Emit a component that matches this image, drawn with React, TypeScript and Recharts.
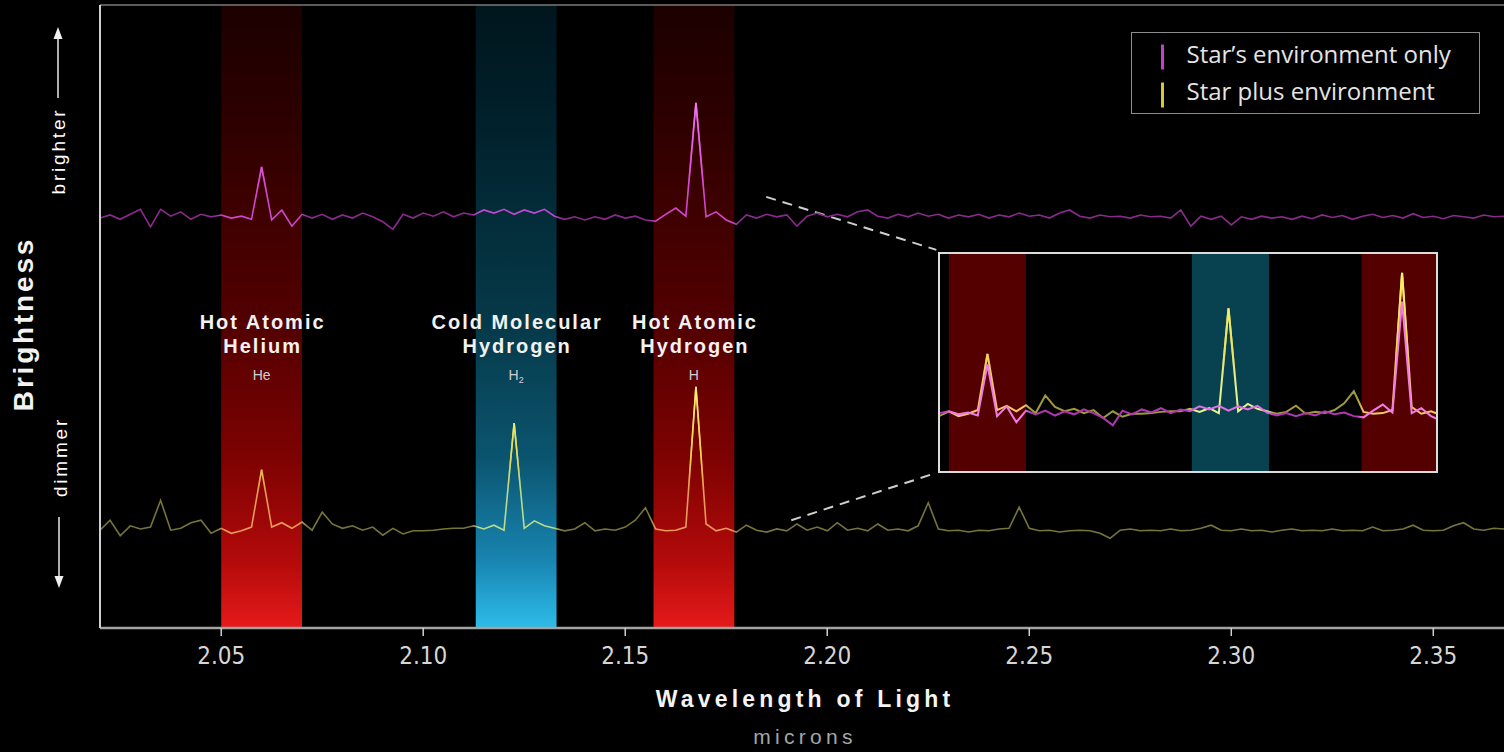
import React from 'react';
import { LineChart, Line, XAxis, YAxis, ReferenceArea, ReferenceLine, Legend } from 'recharts';

// Wavelength samples (microns)
const WAVELENGTH = [
  2.02, 2.0225, 2.025, 2.0275, 2.03, 2.0325, 2.035, 2.0375,
  2.04, 2.0425, 2.045, 2.0475, 2.05, 2.0525, 2.055, 2.0575,
  2.06, 2.0625, 2.065, 2.0675, 2.07, 2.0725, 2.075, 2.0775,
  2.08, 2.0825, 2.085, 2.0875, 2.09, 2.0925, 2.095, 2.0975,
  2.1, 2.1025, 2.105, 2.1075, 2.11, 2.1125, 2.115, 2.1175,
  2.12, 2.1225, 2.125, 2.1275, 2.13, 2.1325, 2.135, 2.1375,
  2.14, 2.1425, 2.145, 2.1475, 2.15, 2.1525, 2.155, 2.1575,
  2.16, 2.1625, 2.165, 2.1675, 2.17, 2.1725, 2.175, 2.1775,
  2.18, 2.1825, 2.185, 2.1875, 2.19, 2.1925, 2.195, 2.1975,
  2.2, 2.2025, 2.205, 2.2075, 2.21, 2.2125, 2.215, 2.2175,
  2.22, 2.2225, 2.225, 2.2275, 2.23, 2.2325, 2.235, 2.2375,
  2.24, 2.2425, 2.245, 2.2475, 2.25, 2.2525, 2.255, 2.2575,
  2.26, 2.2625, 2.265, 2.2675, 2.27, 2.2725, 2.275, 2.2775,
  2.28, 2.2825, 2.285, 2.2875, 2.29, 2.2925, 2.295, 2.2975,
  2.3, 2.3025, 2.305, 2.3075, 2.31, 2.3125, 2.315, 2.3175,
  2.32, 2.3225, 2.325, 2.3275, 2.33, 2.3325, 2.335, 2.3375,
  2.34, 2.3425, 2.345, 2.3475, 2.35, 2.3525, 2.355, 2.3575,
  2.36, 2.3625, 2.365, 2.3675,
];

// "Star's environment only" (magenta), arbitrary brightness units
const ENV_ONLY = [
  65.8, 66.3, 65.6, 66.4, 67.2, 64.4, 67.2, 66.1,
  66.8, 65.6, 66.4, 66.0, 66.3, 65.8, 66.1, 65.6,
  74.0, 65.5, 67.1, 64.5, 66.4, 65.8, 66.4, 65.6,
  66.3, 65.8, 66.6, 66.0, 65.2, 64.0, 66.4, 65.8,
  66.6, 66.1, 66.8, 66.0, 66.6, 66.3, 67.1, 66.6,
  67.2, 66.4, 67.1, 66.6, 67.2, 66.1, 65.6, 66.0,
  65.5, 66.0, 65.6, 66.3, 65.8, 66.1, 65.5, 65.3,
  66.4, 67.4, 66.1, 84.3, 66.0, 66.8, 65.5, 64.8,
  66.3, 65.8, 66.4, 66.0, 66.3, 64.5, 66.1, 66.6,
  66.0, 66.4, 66.0, 66.8, 67.1, 66.1, 65.8, 66.4,
  66.0, 66.6, 66.1, 66.4, 65.8, 66.3, 66.0, 66.4,
  65.8, 66.3, 66.0, 66.6, 66.1, 66.3, 65.8, 66.6,
  67.1, 66.1, 65.8, 66.3, 66.0, 66.1, 65.8, 66.3,
  66.0, 66.1, 65.8, 67.1, 64.5, 66.1, 65.6, 66.1,
  64.7, 66.0, 65.6, 66.1, 65.8, 66.0, 65.6, 66.1,
  65.7, 66.3, 65.9, 66.2, 65.6, 66.1, 66.4, 65.9,
  66.2, 65.8, 66.5, 65.9, 66.1, 65.7, 66.2, 66.0,
  65.8, 66.3, 66.0, 66.1,
];

// "Star plus environment" (yellow)
const STAR_PLUS_ENV = [
  15.7, 17.3, 14.8, 16.4, 15.9, 16.2, 20.5, 15.7,
  16.0, 16.9, 17.3, 15.2, 16.0, 15.2, 15.6, 16.2,
  25.4, 16.2, 16.9, 16.0, 17.0, 15.7, 18.6, 16.7,
  16.0, 16.4, 15.7, 16.2, 14.9, 16.0, 15.1, 15.6,
  15.6, 15.7, 15.9, 16.0, 16.0, 16.4, 15.9, 16.5,
  15.7, 32.9, 16.0, 17.2, 16.4, 16.0, 15.6, 15.9,
  16.9, 15.6, 15.9, 15.7, 16.2, 17.3, 19.3, 15.9,
  15.6, 15.7, 16.2, 38.7, 16.7, 15.6, 16.0, 15.4,
  16.5, 15.7, 15.4, 15.9, 15.6, 16.7, 15.7, 16.2,
  15.6, 16.9, 15.7, 16.0, 15.6, 16.7, 15.7, 15.9,
  15.6, 16.4, 20.1, 15.9, 15.6, 15.7, 15.4, 15.7,
  15.6, 15.9, 16.0, 19.4, 16.0, 15.6, 15.7, 15.4,
  15.6, 15.7, 15.6, 15.2, 14.4, 15.7, 15.9, 15.6,
  15.7, 15.6, 15.9, 15.6, 15.7, 16.0, 16.5, 15.7,
  15.6, 15.9, 15.6, 15.7, 15.4, 15.7, 15.9, 15.6,
  15.7, 15.6, 15.9, 15.6, 15.7, 15.6, 16.2, 15.6,
  15.7, 15.9, 16.5, 15.7, 15.6, 15.7, 16.4, 16.9,
  15.9, 15.7, 16.0, 15.9,
];

const X_TICKS = [2.05, 2.1, 2.15, 2.2, 2.25, 2.3, 2.35];
const X_DOMAIN = [2.02, 2.3675];
const INSET_DOMAIN = [2.0477, 2.1763];

const BAND_STARTS = [2.05, 2.113, 2.157];
const BAND_ENDS = [2.07, 2.133, 2.177];
const BAND_KINDS = ['hot', 'cold', 'hot'];
const BAND_TITLES = [
  ['Hot Atomic', 'Helium'],
  ['Cold Molecular', 'Hydrogen'],
  ['Hot Atomic', 'Hydrogen'],
];
const BAND_SYMBOLS = ['He', 'H2', 'H'];

const SERIES = [
  { key: 'env', name: 'Star\u2019s environment only', legendColor: '#c43ed2' },
  { key: 'star', name: 'Star plus environment', legendColor: '#d8c63c' },
];

// Connector lines from main spectra to inset box (data coordinates)
const CONNECTORS = [
  [{ x: 2.1849, y: 69.2 }, { x: 2.227, y: 60.7 }],
  [{ x: 2.1911, y: 17.3 }, { x: 2.227, y: 24.9 }],
];

const ROWS = WAVELENGTH.map((wl, i) => ({ wl, env: ENV_ONLY[i], star: STAR_PLUS_ENV[i] }));

const BANDS = BAND_STARTS.map((x1, i) => ({
  id: 'b' + i,
  x1,
  x2: BAND_ENDS[i],
  kind: BAND_KINDS[i],
  title: BAND_TITLES[i],
  symbol: BAND_SYMBOLS[i],
}));

const SANS = "'Liberation Sans', Arial, Helvetica, sans-serif";
const NARROW = "'Liberation Sans Narrow', 'DejaVu Sans Condensed', 'Liberation Sans', sans-serif";
const OPEN = "'Open Sans', 'Noto Sans', sans-serif";

const fOff = (wl: number) =>
  (wl - WAVELENGTH[0]) / (WAVELENGTH[WAVELENGTH.length - 1] - WAVELENGTH[0]);

function bandStops(prefix: string, outside: string, hot: string, cold: string) {
  const out: any[] = [<stop key={prefix + 's0'} offset={0} stopColor={outside} />];
  BANDS.forEach((b) => {
    const c = b.kind === 'hot' ? hot : cold;
    const a = fOff(b.x1);
    const e = fOff(b.x2);
    out.push(<stop key={prefix + b.id + 'a'} offset={a - 0.004} stopColor={outside} />);
    out.push(<stop key={prefix + b.id + 'b'} offset={a + 0.002} stopColor={c} />);
    out.push(<stop key={prefix + b.id + 'c'} offset={e - 0.002} stopColor={c} />);
    out.push(<stop key={prefix + b.id + 'd'} offset={e + 0.004} stopColor={outside} />);
  });
  out.push(<stop key={prefix + 's1'} offset={1} stopColor={outside} />);
  return out;
}

const BandLabel = (props: any) => {
  const { viewBox, band } = props;
  if (!viewBox) return null;
  const cx = viewBox.x + viewBox.width / 2 + 1;
  const top = viewBox.y;
  const common = {
    textAnchor: 'middle' as const,
    fill: '#f2f2f2',
    fontSize: 20,
    fontWeight: 700,
    letterSpacing: 2,
    fontFamily: SANS,
  };
  return (
    <g>
      <text x={cx} y={top + 324} {...common}>{band.title[0]}</text>
      <text x={cx} y={top + 348} {...common}>{band.title[1]}</text>
      <text x={cx - 1} y={top + 375} textAnchor="middle" fill="#cfcfcf" fontSize={14} fontFamily={SANS}>
        {band.symbol === 'H2' ? (
          <>
            <tspan>H</tspan>
            <tspan fontSize={9} dy={3}>2</tspan>
          </>
        ) : (
          band.symbol
        )}
      </text>
    </g>
  );
};

const LegendBox = (props: any) => {
  const payload: any[] = props.payload || [];
  const items = SERIES.filter((s) => payload.some((p) => p.value === s.name));
  return (
    <div
      style={{
        width: 349,
        height: 82,
        border: '1.5px solid #8c8c8c',
        boxSizing: 'border-box',
        background: '#000',
      }}
    >
      <svg width={346} height={79} style={{ display: 'block' }}>
        {items.map((s, i) => (
          <g key={s.key}>
            <line x1={30.5} x2={30.5} y1={11.5 + i * 38} y2={36.5 + i * 38} stroke={s.legendColor} strokeWidth={3} />
            <text x={54.5} y={29.5 + i * 37} fill="#e4e4e4" fontSize={24} fontFamily={OPEN}>
              {s.name}
            </text>
          </g>
        ))}
      </svg>
    </div>
  );
};

const MainChart = () => (
  <LineChart width={1504} height={752} data={ROWS} margin={{ top: 5, right: 0, bottom: 0, left: 60 }}>
    <defs>
      <linearGradient id="bandHot" x1="0" y1="0" x2="0" y2="1">
        <stop offset="0" stopColor="#1c0000" />
        <stop offset="0.15" stopColor="#2a0000" />
        <stop offset="0.52" stopColor="#540000" />
        <stop offset="0.73" stopColor="#7e0202" />
        <stop offset="0.89" stopColor="#b20a0a" />
        <stop offset="1" stopColor="#e61a1a" />
      </linearGradient>
      <linearGradient id="bandCold" x1="0" y1="0" x2="0" y2="1">
        <stop offset="0" stopColor="#00161d" />
        <stop offset="0.15" stopColor="#001e28" />
        <stop offset="0.52" stopColor="#063a4a" />
        <stop offset="0.73" stopColor="#0b5570" />
        <stop offset="0.89" stopColor="#1884b0" />
        <stop offset="1" stopColor="#2ebcea" />
      </linearGradient>
      <linearGradient id="lineEnv" x1="0" y1="0" x2="1" y2="0">
        {bandStops('e', '#8a2a8c', '#cf46cf', '#c048d0')}
      </linearGradient>
      <linearGradient id="lineStar" x1="0" y1="0" x2="1" y2="0">
        {bandStops('s', '#77743a', '#e89a5a', '#b8dc8c')}
      </linearGradient>
      <linearGradient id="hiEnv" x1="0" y1="0" x2="0" y2="1">
        <stop offset="0" stopColor="#f478f4" stopOpacity={1} />
        <stop offset="0.5" stopColor="#e858e8" stopOpacity={0.7} />
        <stop offset="0.75" stopColor="#e050e0" stopOpacity={0} />
      </linearGradient>
      <linearGradient id="hiStar" x1="0" y1="0" x2="0" y2="1">
        <stop offset="0" stopColor="#fff27a" stopOpacity={1} />
        <stop offset="0.45" stopColor="#f2dc48" stopOpacity={0.85} />
        <stop offset="0.7" stopColor="#e8c840" stopOpacity={0} />
      </linearGradient>
    </defs>
    <XAxis
      dataKey="wl"
      type="number"
      domain={X_DOMAIN}
      ticks={X_TICKS}
      interval={0}
      allowDataOverflow
      tickFormatter={(v: number) => v.toFixed(2)}
      height={124}
      tickSize={8}
      tickMargin={11}
      axisLine={{ stroke: '#a3a3a3', strokeWidth: 2.5 }}
      tickLine={{ stroke: '#d0d0d0', strokeWidth: 1.5 }}
      tick={{ fill: '#d6d6d6', fontSize: 24, fontFamily: NARROW }}
    />
    <YAxis
      type="number"
      domain={[0, 100]}
      width={40}
      tick={false}
      tickLine={false}
      allowDataOverflow
      axisLine={{ stroke: '#cfcfcf', strokeWidth: 2 }}
    />
    {BANDS.map((b) => (
      <ReferenceArea
        key={b.id}
        x1={b.x1}
        x2={b.x2}
        y1={0}
        y2={100}
        fill={b.kind === 'hot' ? 'url(#bandHot)' : 'url(#bandCold)'}
        fillOpacity={1}
        stroke="none"
        ifOverflow="hidden"
        label={<BandLabel band={b} />}
      />
    ))}
    <ReferenceLine y={100} stroke="#7a7a7a" strokeWidth={1.5} />
    {CONNECTORS.map((seg, i) => (
      <ReferenceLine
        key={'c' + i}
        segment={seg}
        stroke="#cfcfcf"
        strokeWidth={2}
        strokeDasharray="10 7"
        ifOverflow="visible"
      />
    ))}
    <Line
      dataKey="env"
      name={SERIES[0].name}
      type="linear"
      stroke="url(#lineEnv)"
      strokeWidth={1.6}
      dot={false}
      activeDot={false}
      isAnimationActive={false}
    />
    <Line
      dataKey="env"
      name="env-highlight"
      legendType="none"
      type="linear"
      stroke="url(#hiEnv)"
      strokeWidth={1.6}
      dot={false}
      activeDot={false}
      isAnimationActive={false}
    />
    <Line
      dataKey="star"
      name={SERIES[1].name}
      type="linear"
      stroke="url(#lineStar)"
      strokeWidth={1.6}
      dot={false}
      activeDot={false}
      isAnimationActive={false}
    />
    <Line
      dataKey="star"
      name="star-highlight"
      legendType="none"
      type="linear"
      stroke="url(#hiStar)"
      strokeWidth={1.6}
      dot={false}
      activeDot={false}
      isAnimationActive={false}
    />
    <Legend
      content={<LegendBox />}
      layout="vertical"
      align="center"
      verticalAlign="middle"
      wrapperStyle={{ left: 1131, top: 32, width: 349, height: 82 }}
    />
  </LineChart>
);

const InsetChart = () => (
  <LineChart width={496} height={217} data={ROWS} margin={{ top: 0, right: 0, bottom: 0, left: 0 }}>
    <defs>
      <linearGradient id="inEnv" x1="0" y1="0" x2="1" y2="0">
        {bandStops('ie', '#b236b4', '#f27ae6', '#e070e4')}
      </linearGradient>
      <linearGradient id="inStar" x1="0" y1="0" x2="1" y2="0">
        {bandStops('is', '#a09a3a', '#f0c868', '#e8f090')}
      </linearGradient>
      <linearGradient id="inHiStar" x1="0" y1="0" x2="0" y2="1">
        <stop offset="0" stopColor="#fff46a" stopOpacity={1} />
        <stop offset="0.5" stopColor="#f4e04a" stopOpacity={0.8} />
        <stop offset="0.75" stopColor="#f0d040" stopOpacity={0} />
      </linearGradient>
    </defs>
    <XAxis dataKey="wl" type="number" domain={INSET_DOMAIN} allowDataOverflow hide />
    <YAxis yAxisId="env" type="number" domain={[56.5, 92.1]} allowDataOverflow hide />
    <YAxis yAxisId="star" type="number" domain={[6.2, 41.8]} allowDataOverflow hide />
    {BANDS.map((b) => (
      <ReferenceArea
        key={'i' + b.id}
        yAxisId="star"
        x1={b.x1}
        x2={b.x2}
        fill={b.kind === 'hot' ? '#540000' : '#08414f'}
        fillOpacity={1}
        stroke="none"
        ifOverflow="hidden"
      />
    ))}
    <Line
      yAxisId="star"
      dataKey="star"
      type="linear"
      stroke="url(#inStar)"
      strokeWidth={2}
      dot={false}
      activeDot={false}
      isAnimationActive={false}
    />
    <Line
      yAxisId="star"
      dataKey="star"
      legendType="none"
      type="linear"
      stroke="url(#inHiStar)"
      strokeWidth={2}
      dot={false}
      activeDot={false}
      isAnimationActive={false}
    />
    <Line
      yAxisId="env"
      dataKey="env"
      type="linear"
      stroke="url(#inEnv)"
      strokeWidth={2}
      dot={false}
      activeDot={false}
      isAnimationActive={false}
    />
  </LineChart>
);

const Overlay = () => (
  <svg
    width={1504}
    height={752}
    style={{ position: 'absolute', left: 0, top: 0, pointerEvents: 'none' }}
  >
    <text
      x={33}
      y={324}
      transform="rotate(-90 33 324)"
      textAnchor="middle"
      fill="#f2f2f2"
      fontSize={28}
      fontWeight={700}
      letterSpacing={2.8}
      fontFamily={SANS}
    >
      Brightness
    </text>
    <text
      x={65}
      y={151}
      transform="rotate(-90 65 151)"
      textAnchor="middle"
      fill="#ffffff"
      fontSize={19}
      letterSpacing={2.8}
      fontFamily={SANS}
    >
      brighter
    </text>
    <text
      x={67}
      y={457}
      transform="rotate(-90 67 457)"
      textAnchor="middle"
      fill="#ffffff"
      fontSize={19}
      letterSpacing={2.8}
      fontFamily={SANS}
    >
      dimmer
    </text>
    <line x1={58} y1={98} x2={58} y2={38} stroke="#e8e8e8" strokeWidth={1.5} />
    <polygon points="58,27 53.5,39 62.5,39" fill="#f0f0f0" />
    <line x1={59} y1={517} x2={59} y2={577} stroke="#e8e8e8" strokeWidth={1.5} />
    <polygon points="59,588 54.5,576 63.5,576" fill="#f0f0f0" />
    <text
      x={805}
      y={707}
      textAnchor="middle"
      fill="#f4f4f4"
      fontSize={23}
      fontWeight={700}
      letterSpacing={4.2}
      fontFamily={SANS}
    >
      Wavelength of Light
    </text>
    <text
      x={805}
      y={744}
      textAnchor="middle"
      fill="#a6a6a6"
      fontSize={21}
      letterSpacing={4.3}
      fontFamily={SANS}
    >
      microns
    </text>
  </svg>
);

export default function App() {
  return (
    <div
      style={{
        position: 'absolute',
        left: 0,
        top: 0,
        width: 1504,
        height: 752,
        background: '#000',
        overflow: 'hidden',
      }}
    >
      <MainChart />
      <div
        style={{
          position: 'absolute',
          left: 938,
          top: 252,
          width: 500,
          height: 221,
          border: '2px solid #dcdcdc',
          boxSizing: 'border-box',
          background: '#000',
        }}
      >
        <InsetChart />
      </div>
      <Overlay />
    </div>
  );
}
